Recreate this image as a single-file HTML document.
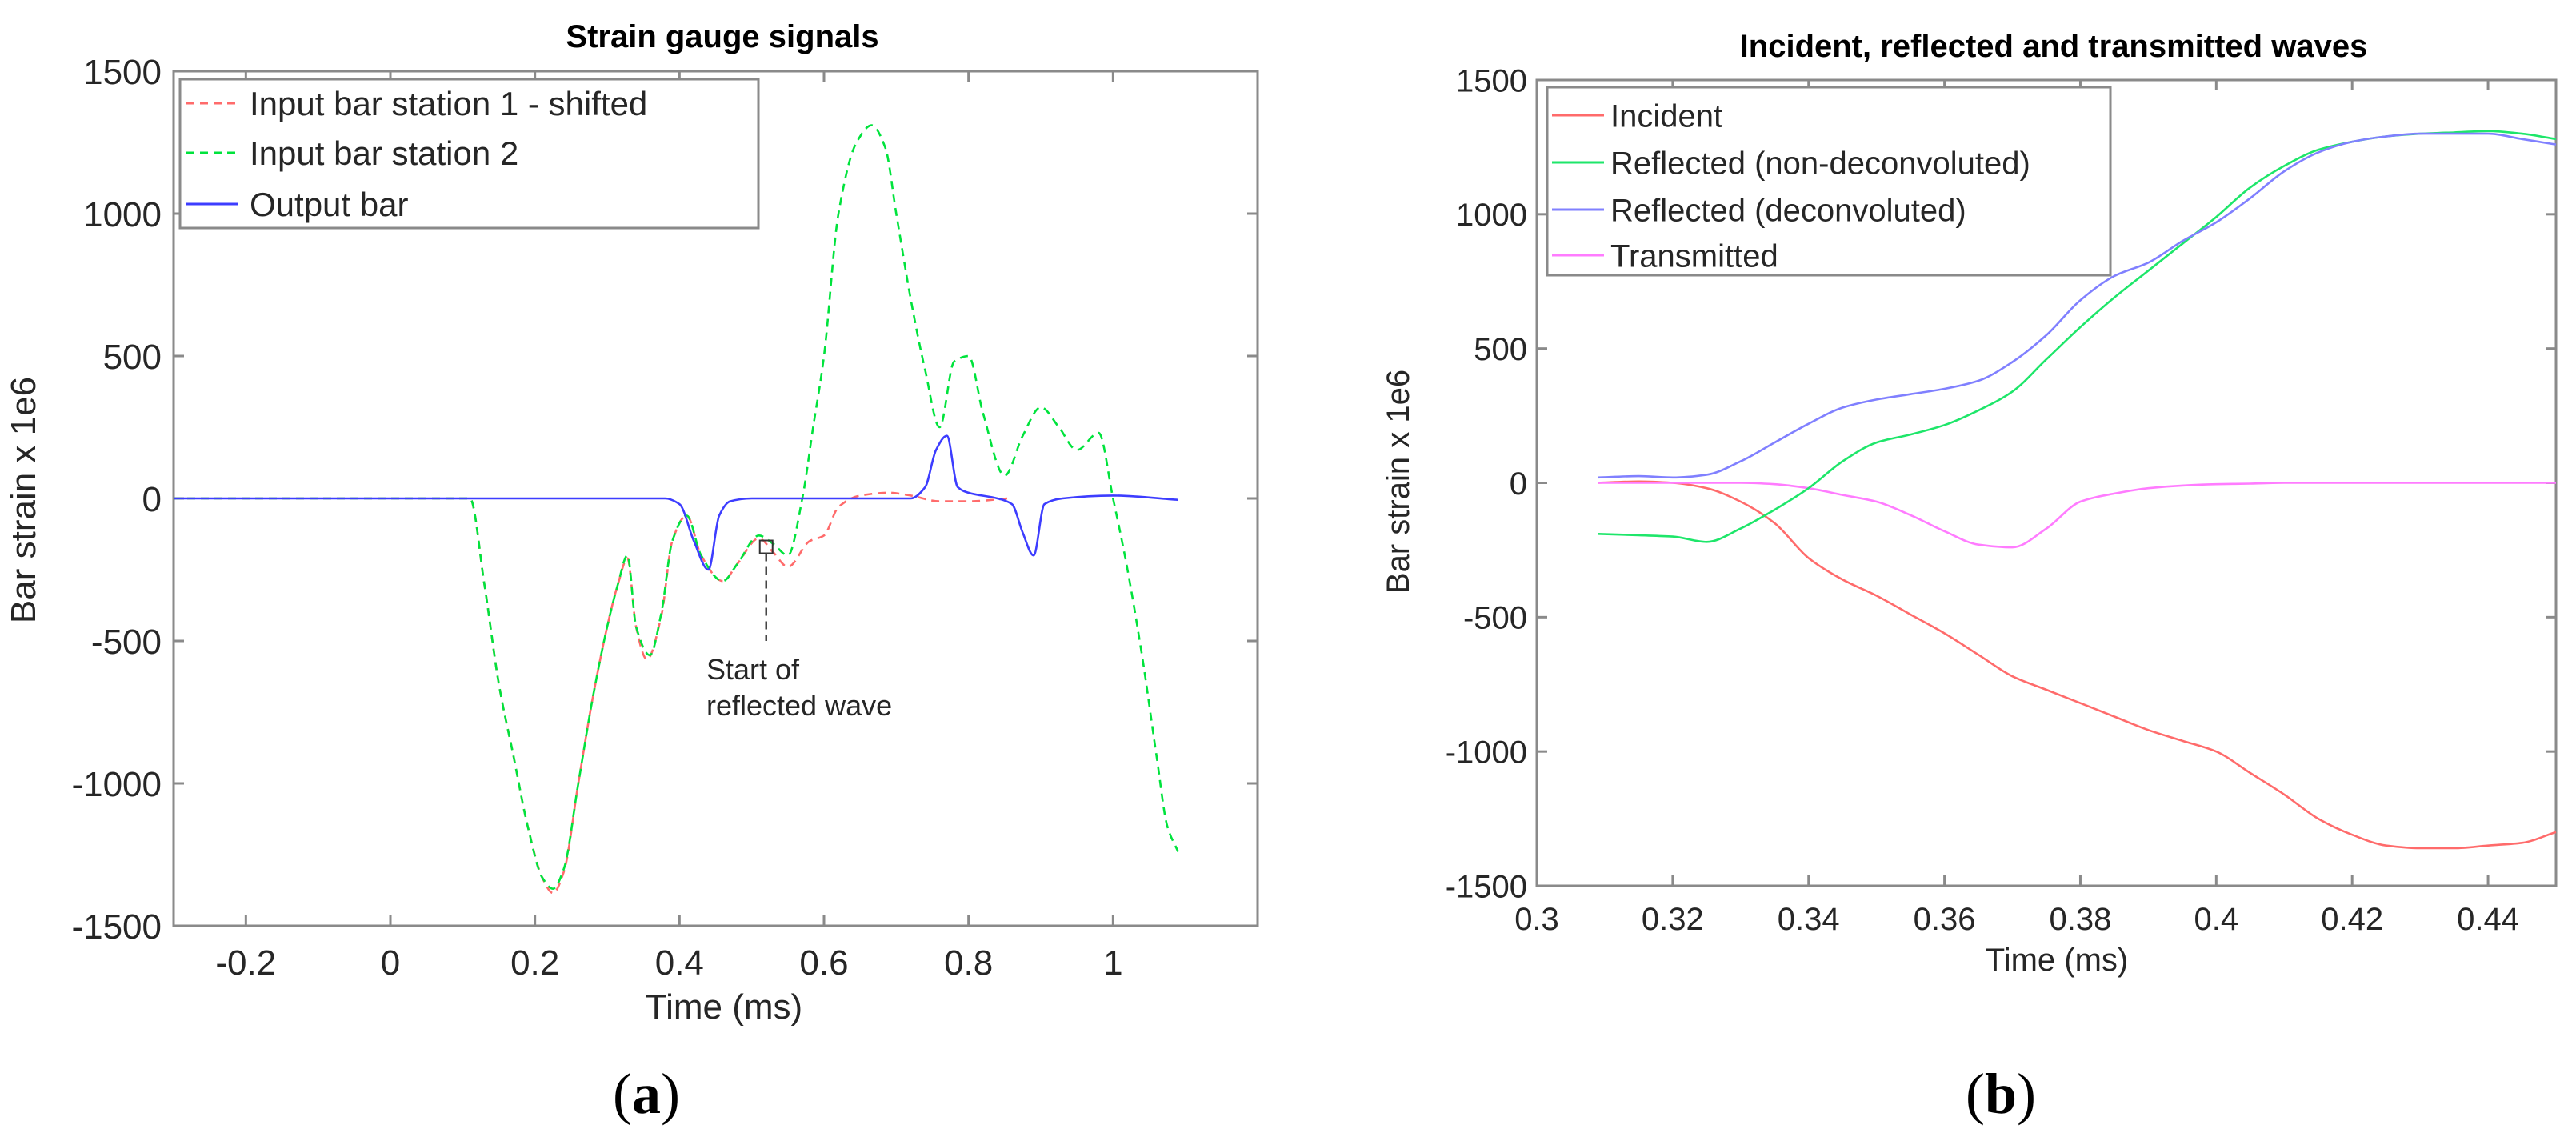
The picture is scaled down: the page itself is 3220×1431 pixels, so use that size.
<!DOCTYPE html>
<html><head><meta charset="utf-8">
<style>
html,body{margin:0;padding:0;background:#fff;}
svg{display:block;}
text{font-family:"Liberation Sans",Arial,sans-serif;fill:#262626;}
</style></head>
<body>
<svg id="fig" width="3220" height="1431" viewBox="0 0 3220 1431" xmlns="http://www.w3.org/2000/svg">
  <g id="pa"></g>
  <g id="pb"></g>
  <text x="808" y="1391" font-size="72" text-anchor="middle" style="font-family:'Liberation Serif',serif;fill:#000">(<tspan font-weight="bold">a</tspan>)</text>
  <text x="2501" y="1391" font-size="72" text-anchor="middle" style="font-family:'Liberation Serif',serif;fill:#000">(<tspan font-weight="bold">b</tspan>)</text>
</svg>
<script>
// ---------- Panel A data ----------
const aXTicks = [-0.2, 0, 0.2, 0.4, 0.6, 0.8, 1];
const aXTickLabels = ["-0.2","0","0.2","0.4","0.6","0.8","1"];
const aYTicks = [-1500,-1000,-500,0,500,1000,1500];
const aYTickLabels = ["-1500","-1000","-500","0","500","1000","1500"];
const aStation2X = [-0.3,0.11,0.13,0.15,0.17,0.19,0.21,0.225,0.24,0.26,0.28,0.3,0.315,0.328,0.34,0.359,0.375,0.39,0.41,0.43,0.46,0.48,0.51,0.53,0.55,0.57,0.585,0.6,0.62,0.645,0.666,0.685,0.7,0.72,0.74,0.76,0.78,0.8,0.82,0.85,0.875,0.9,0.925,0.95,0.98,1.0,1.02,1.04,1.06,1.075,1.09];
const aStation2Y = [0,0,-300,-650,-900,-1150,-1330,-1370,-1300,-1000,-700,-450,-300,-200,-450,-550,-400,-150,-60,-200,-290,-230,-130,-160,-200,0,250,500,1000,1250,1310,1230,1000,700,450,250,480,500,300,80,220,320,250,170,230,0,-250,-550,-900,-1150,-1240];
const aStation1X = [-0.3,0.11,0.13,0.15,0.17,0.19,0.21,0.225,0.24,0.26,0.28,0.3,0.315,0.328,0.34,0.355,0.375,0.39,0.41,0.43,0.46,0.48,0.51,0.53,0.55,0.58,0.6,0.62,0.65,0.69,0.72,0.76,0.8,0.855];
const aStation1Y = [0,0,-300,-650,-900,-1150,-1330,-1385,-1310,-1000,-700,-450,-300,-210,-450,-565,-410,-150,-60,-200,-290,-230,-140,-190,-240,-150,-130,-30,10,20,10,-10,-10,0];
const aOutputX = [-0.3,0.38,0.4,0.42,0.44,0.455,0.47,0.5,0.72,0.74,0.755,0.77,0.785,0.8,0.84,0.86,0.875,0.89,0.905,0.93,1.0,1.09];
const aOutputY = [0,0,-20,-150,-250,-60,-10,0,0,40,170,220,40,20,0,-20,-120,-200,-20,0,10,-5];
const aMarkerX = [0.52];
const aMarkerY = [-170];
const aMarkerEndY = [-500];

// ---------- Panel B data ----------
const bXTicks = [0.3,0.32,0.34,0.36,0.38,0.4,0.42,0.44];
const bXTickLabels = ["0.3","0.32","0.34","0.36","0.38","0.4","0.42","0.44"];
const bYTicks = [-1500,-1000,-500,0,500,1000,1500];
const bYTickLabels = ["-1500","-1000","-500","0","500","1000","1500"];
const bX = [0.309,0.315,0.32,0.325,0.33,0.335,0.34,0.345,0.35,0.355,0.36,0.365,0.37,0.375,0.38,0.385,0.39,0.395,0.4,0.405,0.41,0.415,0.42,0.425,0.43,0.435,0.44,0.445,0.45];
const bIncident = [0,5,0,-20,-70,-150,-280,-360,-420,-490,-560,-640,-720,-770,-820,-870,-920,-960,-1000,-1080,-1160,-1250,-1310,-1350,-1360,-1360,-1350,-1340,-1300];
const bReflNonDeconv = [-190,-195,-200,-220,-170,-100,-20,80,150,180,215,270,340,460,580,690,790,890,990,1100,1180,1240,1270,1290,1300,1305,1310,1300,1280];
const bReflDeconv = [20,25,20,30,80,150,220,280,310,330,350,380,450,550,680,770,820,900,970,1060,1160,1230,1270,1290,1300,1300,1300,1280,1260];
const bTransmitted = [0,0,0,0,0,-5,-20,-45,-70,-120,-180,-230,-240,-170,-70,-40,-20,-10,-5,-3,0,0,0,0,0,0,0,0,0];

const NS = "http://www.w3.org/2000/svg";
function mk(tag, attrs, parent){const e=document.createElementNS(NS,tag);for(const k in attrs)e.setAttribute(k,attrs[k]);parent.appendChild(e);return e;}
function lin(d0,d1,p0,p1){return v=>p0+(v-d0)*(p1-p0)/(d1-d0);}

function axes(g, box, xd, yd, xt, xtl, yt, ytl, fs, title, titleX, titleY, ylx, yly, xlx, xly, xlabY, ylabX){
  const X=lin(xd[0],xd[1],box.l,box.r), Y=lin(yd[0],yd[1],box.b,box.t);
  const frame=mk('rect',{x:box.l,y:box.t,width:box.r-box.l,height:box.b-box.t,fill:'none',stroke:'#8a8a8a','stroke-width':3},g);
  
  
  xt.forEach((v,i)=>{
    const px=X(v);
    const t1=mk('line',{x1:px,x2:px,y1:box.b,y2:box.b-13,stroke:'#8a8a8a','stroke-width':3},g);
    
    
    const t2=mk('line',{x1:px,x2:px,y1:box.t,y2:box.t+13,stroke:'#8a8a8a','stroke-width':3},g);
    
    
    const tl=mk('text',{x:px,y:xlabY,'font-size':fs,'text-anchor':'middle'},g);
    tl.textContent=xtl[i];
    
    
  });
  yt.forEach((v,i)=>{
    const py=Y(v);
    const t1=mk('line',{x1:box.l,x2:box.l+13,y1:py,y2:py,stroke:'#8a8a8a','stroke-width':3},g);
    
    
    const t2=mk('line',{x1:box.r,x2:box.r-13,y1:py,y2:py,stroke:'#8a8a8a','stroke-width':3},g);
    
    
    const tl=mk('text',{x:ylabX,y:py+fs*0.36,'font-size':fs,'text-anchor':'end'},g);
    tl.textContent=ytl[i];
    
    
  });
  const tt=mk('text',{x:titleX,y:titleY,'font-size':40,'font-weight':'bold','text-anchor':'middle',style:'fill:#000'},g);
  tt.textContent=title;
  
  
  const yl=mk('text',{x:0,y:0,'font-size':fs,'text-anchor':'middle',transform:`translate(${ylx},${yly}) rotate(-90)`},g);
  yl.textContent='Bar strain x 1e6';
  
  
  const xl=mk('text',{x:xlx,y:xly,'font-size':fs,'text-anchor':'middle'},g);
  xl.textContent='Time (ms)';
  
  
  return {X,Y};
}
// monotone cubic (Fritsch-Carlson) path — no overshoot
function smoothPath(P){
  const n=P.length;
  const dx=[],dy=[],m=[];
  for(let i=0;i<n-1;i++){dx.push(P[i+1][0]-P[i][0]);dy.push(P[i+1][1]-P[i][1]);m.push(dy[i]/dx[i]);}
  const t=new Array(n);
  t[0]=m[0];t[n-1]=m[n-2];
  for(let i=1;i<n-1;i++){
    if(m[i-1]*m[i]<=0)t[i]=0;
    else{const w1=2*dx[i]+dx[i-1],w2=dx[i]+2*dx[i-1];t[i]=(w1+w2)/(w1/m[i-1]+w2/m[i]);}
  }
  let d='M'+P[0][0].toFixed(1)+','+P[0][1].toFixed(1);
  for(let i=0;i<n-1;i++){
    const h=dx[i]/3;
    d+=` C${(P[i][0]+h).toFixed(1)},${(P[i][1]+t[i]*h).toFixed(1)} ${(P[i+1][0]-h).toFixed(1)},${(P[i+1][1]-t[i+1]*h).toFixed(1)} ${P[i+1][0].toFixed(1)},${P[i+1][1].toFixed(1)}`;
  }
  return d;
}
function series(g,X,Y,xs,ys,color,dash,name){
  const P=xs.map((x,i)=>[X(x),Y(ys[i])]);
  const p=mk('path',{d:smoothPath(P),fill:'none',stroke:color,'stroke-width':2.6,'stroke-linejoin':'round'},g);
  if(dash)p.setAttribute('stroke-dasharray',dash);
  
  
}
function legend(g,box,items,fs){
  const lg=mk('g',{},g);
  
  
  mk('rect',{x:box.l,y:box.t,width:box.r-box.l,height:box.b-box.t,fill:'#fff',stroke:'#8a8a8a','stroke-width':3},lg);
  items.forEach(it=>{
    const e=mk('g',{},lg);
    
    
    const l=mk('line',{x1:box.lx0,x2:box.lx1,y1:it.y,y2:it.y,stroke:it.c,'stroke-width':3},e);
    if(it.d)l.setAttribute('stroke-dasharray',it.d);
    const t=mk('text',{x:box.tx,y:it.y+fs*0.36,'font-size':fs},e);
    t.textContent=it.t;
  });
}

// Panel A
const ga=document.getElementById('pa');
const A=axes(ga,{l:217,r:1572,t:89,b:1157},[-0.3,1.2],[-1500,1500],aXTicks,aXTickLabels,aYTicks,aYTickLabels,44,
  'Strain gauge signals',903,59,44,625,905,1273,1218,202);
series(ga,A.X,A.Y,aStation1X,aStation1Y,'#ff6b6b','10 7','series-input-bar-station-1-shifted');
series(ga,A.X,A.Y,aStation2X,aStation2Y,'#00e33c','10 7','series-input-bar-station-2');
series(ga,A.X,A.Y,aOutputX,aOutputY,'#3d3dff',null,'series-output-bar');
const mx=A.X(aMarkerX[0]), my=A.Y(aMarkerY[0]), me=A.Y(aMarkerEndY[0]);
const sq=mk('rect',{x:mx-8,y:my-8,width:16,height:16,fill:'none',stroke:'#333','stroke-width':2},ga);


const dl=mk('line',{x1:mx,x2:mx,y1:my+8,y2:me,stroke:'#444','stroke-width':2.5,'stroke-dasharray':'10 7'},ga);


const an=mk('text',{x:883,y:849,'font-size':36},ga);


an.innerHTML='<tspan x="883" y="849">Start of</tspan><tspan x="883" y="894">reflected wave</tspan>';
legend(ga,{l:225,t:99,r:948,b:285,lx0:233,lx1:297,tx:312},[
  {y:129,c:'#ff6b6b',d:'10 7',t:'Input bar station 1 - shifted'},
  {y:191,c:'#00e33c',d:'10 7',t:'Input bar station 2'},
  {y:255,c:'#3d3dff',d:null,t:'Output bar'}],42);

// Panel B
const gb=document.getElementById('pb');
const B=axes(gb,{l:1921,r:3195,t:100,b:1107},[0.3,0.45],[-1500,1500],bXTicks,bXTickLabels,bYTicks,bYTickLabels,40,
  'Incident, reflected and transmitted waves',2567,71,1761,602,2571,1213,1162,1909);
series(gb,B.X,B.Y,bX,bIncident,'#ff6b6b',null,'series-incident');
series(gb,B.X,B.Y,bX,bTransmitted,'#ff7cff',null,'series-transmitted');
series(gb,B.X,B.Y,bX,bReflNonDeconv,'#1ee66a',null,'series-reflected-non-deconvoluted');
series(gb,B.X,B.Y,bX,bReflDeconv,'#8080ff',null,'series-reflected-deconvoluted');
legend(gb,{l:1934,t:109,r:2638,b:344,lx0:1940,lx1:2005,tx:2013},[
  {y:144,c:'#ff6b6b',t:'Incident'},
  {y:203,c:'#1ee66a',t:'Reflected (non-deconvoluted)'},
  {y:262,c:'#8080ff',t:'Reflected (deconvoluted)'},
  {y:319,c:'#ff7cff',t:'Transmitted'}],40);
</script>
</body></html>
